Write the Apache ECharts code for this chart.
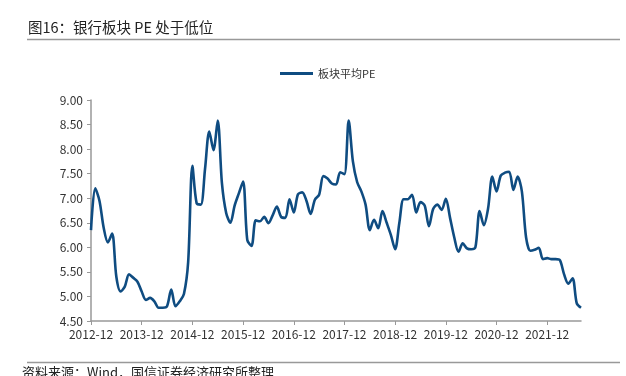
<!DOCTYPE html>
<html>
<head>
<meta charset="utf-8">
<script src="https://cdn.jsdelivr.net/npm/echarts@6/dist/echarts.min.js"></script>
<style>
  html, body { margin: 0; padding: 0; background: #fff; }
  #pe { width: 626px; height: 376px; }
</style>
</head>
<body>
<div id="pe"></div>
<script>
// 板块平均PE，月度，2012-12 起
var startYear = 2012
var startMonth = 12
var peValues = [
  6.35, 7.20, 6.95, 6.40, 6.10, 6.28, 5.40, 5.10, 5.20, 5.45, 5.38, 5.30,
  5.10, 4.93, 4.97, 4.90, 4.77, 4.77, 4.80, 5.14, 4.80, 4.90, 5.05, 5.70,
  7.66, 6.90, 6.87, 7.60, 8.36, 7.98, 8.58, 7.30, 6.70, 6.50, 6.85, 7.10,
  7.34, 6.15, 6.03, 6.55, 6.53, 6.62, 6.49, 6.65, 6.83, 6.62, 6.60, 6.98,
  6.71, 7.08, 7.12, 6.95, 6.68, 6.97, 7.07, 7.45, 7.40, 7.30, 7.28, 7.53,
  7.49, 8.58, 7.75, 7.33, 7.14, 6.87, 6.35, 6.56, 6.39, 6.74, 6.50, 6.25,
  5.96, 6.50, 6.98, 6.98, 7.07, 6.71, 6.92, 6.85, 6.43, 6.78, 6.87, 6.76,
  6.99, 6.60, 6.20, 5.91, 6.08, 5.98, 5.96, 6.00, 6.74, 6.45, 6.79, 7.44,
  7.14, 7.46, 7.52, 7.54, 7.17, 7.44, 7.14, 6.20, 5.93, 5.95, 5.99, 5.76,
  5.78, 5.76, 5.76, 5.74, 5.45, 5.26, 5.37, 4.86, 4.77
]
var yMin = 4.5
var yMax = 9
var yStep = 0.5

// 月份类目
var months = []
for (var i = 0; i < peValues.length; i++) {
  var m = startMonth - 1 + i
  var y = startYear + Math.floor(m / 12)
  var mm = (m % 12) + 1
  months.push(y + '-' + (mm < 10 ? '0' + mm : mm))
}

var chart = echarts.init(document.getElementById('pe'))
var font = '"Noto Sans CJK SC", "Noto Sans", sans-serif'

var option = {
  backgroundColor: '#fff',
  animation: false,
  textStyle: { fontFamily: font },
  grid: { left: 91, right: 45, top: 100, bottom: 55 },
  legend: {
    data: ['板块平均PE'],
    top: 63,
    left: 275,
    itemWidth: 33,
    itemHeight: 3,
    itemGap: 6,
    icon: 'rect',
    textStyle: { fontSize: 11, color: '#333', fontFamily: font }
  },
  xAxis: {
    type: 'category',
    data: months,
    boundaryGap: false,
    axisLine: { lineStyle: { color: '#999', width: 1.5 } },
    axisTick: { interval: 11, length: 4, lineStyle: { color: '#999' } },
    axisLabel: { interval: 11, color: '#333', fontSize: 12, margin: 7, fontFamily: font }
  },
  yAxis: {
    type: 'value',
    min: yMin,
    max: yMax,
    interval: yStep,
    splitLine: { show: false },
    axisLine: { show: true, lineStyle: { color: '#999', width: 1.5 } },
    axisTick: { show: true, length: 4, lineStyle: { color: '#999' } },
    axisLabel: {
      color: '#333',
      fontSize: 12,
      margin: 8,
      fontFamily: font,
      formatter: function (v) { return v.toFixed(2) }
    }
  },
  series: [
    {
      name: '板块平均PE',
      type: 'line',
      data: peValues,
      smooth: 0.3,
      showSymbol: false,
      color: '#0f4c81',
      lineStyle: { width: 2.6, color: '#0f4c81' }
    }
  ],
  graphic: [
    {
      type: 'text',
      left: 28,
      top: 20,
      style: { text: '图16：银行板块 PE 处于低位', fontSize: 14.5, fill: '#222', fontFamily: font }
    },
    {
      type: 'line',
      shape: { x1: 27, y1: 39.5, x2: 620, y2: 39.5 },
      style: { stroke: '#999', lineWidth: 1.5 }
    },
    {
      type: 'line',
      shape: { x1: 27, y1: 362.5, x2: 620, y2: 362.5 },
      style: { stroke: '#999', lineWidth: 1.5 }
    },
    {
      type: 'text',
      left: 22,
      top: 366,
      style: { text: '资料来源：Wind，国信证券经济研究所整理', fontSize: 13, fill: '#222', fontFamily: font }
    }
  ]
}
chart.setOption(option)
</script>
</body>
</html>
